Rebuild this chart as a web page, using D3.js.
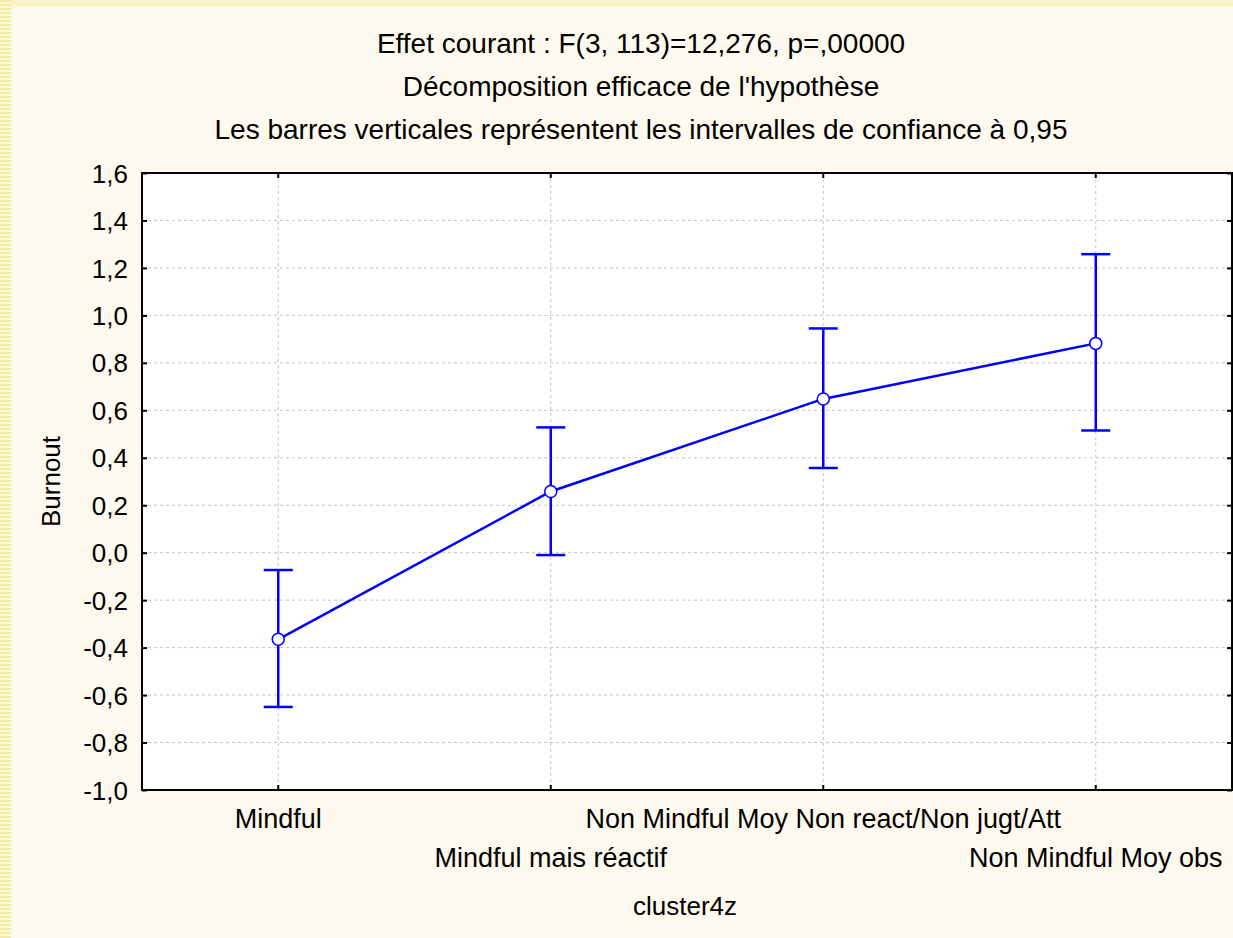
<!DOCTYPE html>
<html>
<head>
<meta charset="utf-8">
<script src="https://cdn.jsdelivr.net/npm/d3@7"></script>
<style>
  body { margin: 0; background: #fef9ee; }
  svg { display: block; }
  text { font-family: "Liberation Sans", Arial, sans-serif; fill: #000; }
</style>
</head>
<body>
<script>
document.addEventListener("DOMContentLoaded", function() {
  const width = 1233;
  const height = 938;

  // data
  const titles = [
    "Effet courant : F(3, 113)=12,276, p=,00000",
    "Décomposition efficace de l'hypothèse",
    "Les barres verticales représentent les intervalles de confiance à 0,95"
  ];
  const categories = [
    "Mindful",
    "Mindful mais réactif",
    "Non Mindful Moy Non react/Non jugt/Att",
    "Non Mindful Moy obs"
  ];
  const means = [-0.365, 0.258, 0.648, 0.882];
  const lower = [-0.650, -0.010, 0.357, 0.515];
  const upper = [-0.073, 0.528, 0.945, 1.258];
  const yTicks = [-1.0, -0.8, -0.6, -0.4, -0.2, 0.0, 0.2, 0.4, 0.6, 0.8, 1.0, 1.2, 1.4, 1.6];
  const xTitle = "cluster4z";
  const yTitle = "Burnout";

  const margin = {top: 173, right: 1, bottom: 148, left: 142};
  const innerW = width - margin.left - margin.right;
  const innerH = height - margin.top - margin.bottom;
  const blue = "#0000ff";

  const locale = d3.formatLocale({decimal: ",", thousands: " ", grouping: [3], currency: ["", ""], minus: "-"});
  const fmt = locale.format(".1f");

  const svg = d3.select("body").append("svg")
    .attr("width", width)
    .attr("height", height);

  // slide background: stripes on the left and top edges
  const defs = svg.append("defs");
  const pat = defs.append("pattern")
    .attr("id", "stripes")
    .attr("width", 4).attr("height", 4)
    .attr("patternUnits", "userSpaceOnUse");
  pat.append("rect").attr("width", 4).attr("height", 4).attr("fill", "#fbf7d4");
  pat.append("rect").attr("width", 4).attr("height", 2).attr("fill", "#f3eca8");

  svg.append("rect").attr("width", width).attr("height", height).attr("fill", "#fef9ee");
  svg.append("rect").attr("width", width).attr("height", 7).attr("fill", "#f9f4c8");
  svg.append("rect").attr("width", 11).attr("height", height).attr("fill", "url(#stripes)");

  const x = d3.scaleBand()
    .domain(categories)
    .range([0, innerW])
    .padding(0);

  const y = d3.scaleLinear()
    .domain([-1.0, 1.6])
    .range([innerH, 0]);

  const g = svg.append("g")
    .attr("transform", `translate(${margin.left},${margin.top})`);

  g.append("rect")
    .attr("width", innerW)
    .attr("height", innerH)
    .attr("fill", "#fff");

  // grid
  g.append("g").selectAll("line")
    .data(yTicks.slice(1, -1))
    .join("line")
    .attr("x1", 0).attr("x2", innerW)
    .attr("y1", d => y(d)).attr("y2", d => y(d))
    .attr("stroke", "#c4c4c4")
    .attr("stroke-dasharray", "3,3");

  g.append("g").selectAll("line")
    .data(categories)
    .join("line")
    .attr("x1", d => x(d) + x.bandwidth() / 2)
    .attr("x2", d => x(d) + x.bandwidth() / 2)
    .attr("y1", 0).attr("y2", innerH)
    .attr("stroke", "#c4c4c4")
    .attr("stroke-dasharray", "3,3");

  // axes, ticks pointing inwards
  const yAxis = g.append("g")
    .call(d3.axisLeft(y).tickValues(yTicks).tickFormat(fmt).tickSize(-5).tickPadding(14));
  yAxis.selectAll("text").style("font-size", "26px").attr("dy", "0.35em");

  g.append("g")
    .attr("transform", `translate(${innerW},0)`)
    .call(d3.axisRight(y).tickValues(yTicks).tickFormat("").tickSize(-5));

  g.append("g")
    .call(d3.axisTop(x).tickFormat("").tickSize(-5));

  g.append("g")
    .attr("transform", `translate(0,${innerH})`)
    .call(d3.axisBottom(x).tickFormat("").tickSize(-5));

  g.selectAll(".domain").remove();
  g.selectAll(".tick line").attr("stroke", "#000").attr("stroke-width", 2);

  g.append("rect")
    .attr("width", innerW)
    .attr("height", innerH)
    .attr("fill", "none")
    .attr("stroke", "#000")
    .attr("stroke-width", 2);

  // staggered category labels
  g.append("g").selectAll("text")
    .data(categories)
    .join("text")
    .attr("x", d => x(d) + x.bandwidth() / 2)
    .attr("y", (d, i) => innerH + (i % 2 === 0 ? 38 : 77))
    .attr("text-anchor", "middle")
    .style("font-size", "27px")
    .text(d => d);

  // mean line
  const pts = categories.map((c, i) => ({c: c, m: means[i], lo: lower[i], hi: upper[i]}));
  const line = d3.line()
    .x(d => x(d.c) + x.bandwidth() / 2)
    .y(d => y(d.m));

  g.append("path")
    .datum(pts)
    .attr("d", line)
    .attr("fill", "none")
    .attr("stroke", blue)
    .attr("stroke-width", 2.5);

  // confidence intervals
  const capW = 14.5;
  const bars = g.append("g").selectAll("g")
    .data(pts)
    .join("g")
    .attr("transform", d => `translate(${x(d.c) + x.bandwidth() / 2},0)`);

  bars.append("line")
    .attr("y1", d => y(d.lo)).attr("y2", d => y(d.hi))
    .attr("stroke", blue).attr("stroke-width", 2.5);
  bars.append("line")
    .attr("x1", -capW).attr("x2", capW)
    .attr("y1", d => y(d.hi)).attr("y2", d => y(d.hi))
    .attr("stroke", blue).attr("stroke-width", 2.5);
  bars.append("line")
    .attr("x1", -capW).attr("x2", capW)
    .attr("y1", d => y(d.lo)).attr("y2", d => y(d.lo))
    .attr("stroke", blue).attr("stroke-width", 2.5);
  bars.append("circle")
    .attr("cy", d => y(d.m))
    .attr("r", 6)
    .attr("fill", "#fff")
    .attr("stroke", blue)
    .attr("stroke-width", 1.5);

  // titles
  svg.append("g").selectAll("text")
    .data(titles)
    .join("text")
    .attr("x", 641)
    .attr("y", (d, i) => 53 + i * 43)
    .attr("text-anchor", "middle")
    .style("font-size", "28px")
    .text(d => d);

  svg.append("text")
    .attr("x", margin.left + innerW / 2 - 2)
    .attr("y", 915)
    .attr("text-anchor", "middle")
    .style("font-size", "26px")
    .text(xTitle);

  svg.append("text")
    .attr("transform", `translate(60,${margin.top + innerH / 2}) rotate(-90)`)
    .attr("text-anchor", "middle")
    .style("font-size", "26px")
    .text(yTitle);
});
</script>
</body>
</html>
